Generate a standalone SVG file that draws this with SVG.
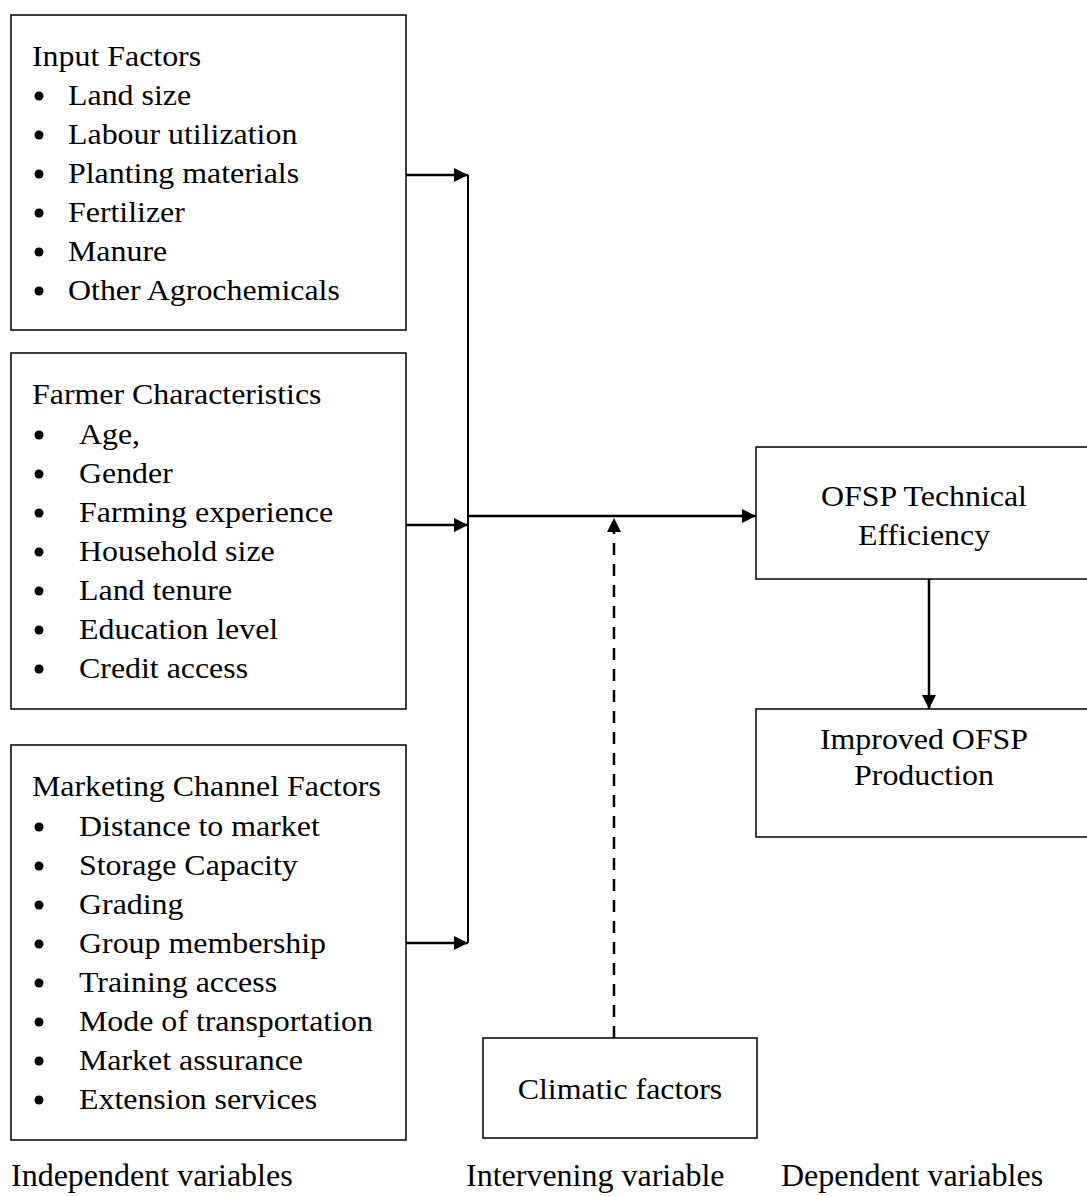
<svg xmlns="http://www.w3.org/2000/svg" width="1087" height="1196" viewBox="0 0 1087 1196">
<style>
text{font-family:"Liberation Serif","Times New Roman",serif;font-size:29px;fill:#000}
.lab{font-size:32px}
.box{fill:#fff;stroke:#000;stroke-width:1.5}
.ln{fill:none;stroke:#000;stroke-width:2.5}
.vl{fill:none;stroke:#000;stroke-width:2}
.dash{fill:none;stroke:#000;stroke-width:2.5;stroke-dasharray:12,9}
.c{text-anchor:middle}
</style>
<defs>
<marker id="ah" viewBox="0 0 10 10" refX="10" refY="5" markerWidth="16" markerHeight="14" markerUnits="userSpaceOnUse" orient="auto">
<path d="M0,0 L10,5 L0,10 z" fill="#000"/>
</marker>
</defs>
<rect width="1087" height="1196" fill="#fff"/>
<g id="connectors">
<line class="vl" x1="468" y1="175" x2="468" y2="943"/>
<line class="ln" x1="406" y1="175" x2="468" y2="175" marker-end="url(#ah)"/>
<line class="ln" x1="406" y1="525" x2="468" y2="525" marker-end="url(#ah)"/>
<line class="ln" x1="406" y1="943" x2="468" y2="943" marker-end="url(#ah)"/>
<line class="ln" x1="468" y1="516" x2="756" y2="516" marker-end="url(#ah)"/>
<line class="dash" x1="614" y1="1038" x2="614" y2="518" marker-end="url(#ah)"/>
<line class="ln" x1="929" y1="579" x2="929" y2="709" marker-end="url(#ah)"/>
</g>
<g id="input-factors">
<rect class="box" x="11" y="15" width="395" height="315"/>
<text transform="translate(32,66) scale(1.1,1)">Input Factors</text>
<circle cx="39" cy="96" r="4.5"/><text transform="translate(68,105) scale(1.1,1)">Land size</text>
<circle cx="39" cy="135" r="4.5"/><text transform="translate(68,144) scale(1.1,1)">Labour utilization</text>
<circle cx="39" cy="174" r="4.5"/><text transform="translate(68,183) scale(1.1,1)">Planting materials</text>
<circle cx="39" cy="213" r="4.5"/><text transform="translate(68,222) scale(1.1,1)">Fertilizer</text>
<circle cx="39" cy="252" r="4.5"/><text transform="translate(68,261) scale(1.1,1)">Manure</text>
<circle cx="39" cy="291" r="4.5"/><text transform="translate(68,300) scale(1.1,1)">Other Agrochemicals</text>
</g>
<g id="farmer-characteristics">
<rect class="box" x="11" y="353" width="395" height="356"/>
<text transform="translate(32,404) scale(1.1,1)">Farmer Characteristics</text>
<circle cx="39" cy="435" r="4.5"/><text transform="translate(79,444) scale(1.1,1)">Age,</text>
<circle cx="39" cy="474" r="4.5"/><text transform="translate(79,483) scale(1.1,1)">Gender</text>
<circle cx="39" cy="513" r="4.5"/><text transform="translate(79,522) scale(1.1,1)">Farming experience</text>
<circle cx="39" cy="552" r="4.5"/><text transform="translate(79,561) scale(1.1,1)">Household size</text>
<circle cx="39" cy="591" r="4.5"/><text transform="translate(79,600) scale(1.1,1)">Land tenure</text>
<circle cx="39" cy="630" r="4.5"/><text transform="translate(79,639) scale(1.1,1)">Education level</text>
<circle cx="39" cy="669" r="4.5"/><text transform="translate(79,678) scale(1.1,1)">Credit access</text>
</g>
<g id="marketing-channel-factors">
<rect class="box" x="11" y="745" width="395" height="395"/>
<text transform="translate(32,796) scale(1.1,1)">Marketing Channel Factors</text>
<circle cx="39" cy="827" r="4.5"/><text transform="translate(79,836) scale(1.1,1)">Distance to market</text>
<circle cx="39" cy="866" r="4.5"/><text transform="translate(79,875) scale(1.1,1)">Storage Capacity</text>
<circle cx="39" cy="905" r="4.5"/><text transform="translate(79,914) scale(1.1,1)">Grading</text>
<circle cx="39" cy="944" r="4.5"/><text transform="translate(79,953) scale(1.1,1)">Group membership</text>
<circle cx="39" cy="983" r="4.5"/><text transform="translate(79,992) scale(1.1,1)">Training access</text>
<circle cx="39" cy="1022" r="4.5"/><text transform="translate(79,1031) scale(1.1,1)">Mode of transportation</text>
<circle cx="39" cy="1061" r="4.5"/><text transform="translate(79,1070) scale(1.1,1)">Market assurance</text>
<circle cx="39" cy="1100" r="4.5"/><text transform="translate(79,1109) scale(1.1,1)">Extension services</text>
</g>
<g id="ofsp-technical-efficiency">
<rect class="box" x="756" y="447" width="340" height="132"/>
<text class="c" transform="translate(924,506) scale(1.1,1)">OFSP Technical</text>
<text class="c" transform="translate(924,545) scale(1.1,1)">Efficiency</text>
</g>
<g id="improved-ofsp-production">
<rect class="box" x="756" y="709" width="340" height="128"/>
<text class="c" transform="translate(924,749) scale(1.1,1)">Improved OFSP</text>
<text class="c" transform="translate(924,785) scale(1.1,1)">Production</text>
</g>
<g id="climatic-factors">
<rect class="box" x="483" y="1038" width="274" height="100"/>
<text class="c" transform="translate(620,1099) scale(1.1,1)">Climatic factors</text>
</g>
<g id="labels">
<text class="lab" x="11" y="1186">Independent variables</text>
<text class="lab" x="466" y="1186">Intervening variable</text>
<text class="lab" x="781" y="1186">Dependent variables</text>
</g>
</svg>
